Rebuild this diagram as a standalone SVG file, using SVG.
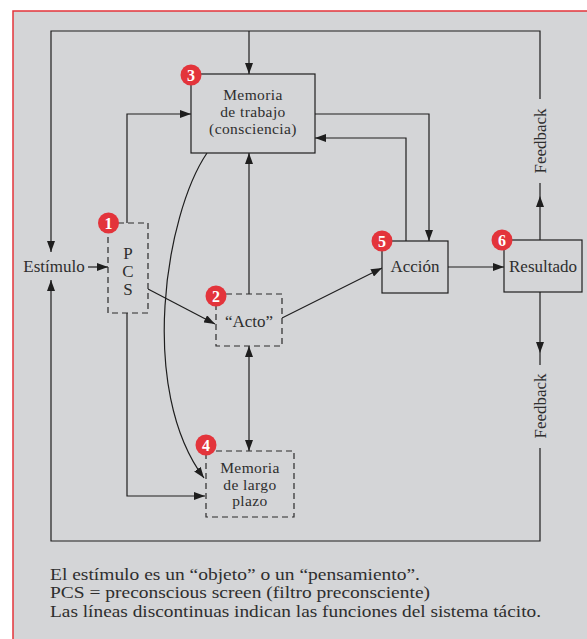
<svg xmlns="http://www.w3.org/2000/svg" width="587" height="639" viewBox="0 0 587 639">
<defs>
<marker id="ah" markerUnits="userSpaceOnUse" markerWidth="11" markerHeight="8" refX="11" refY="4" orient="auto">
<path d="M0,0 L11,4 L0,8 z" fill="#1e1e1e"/>
</marker>
<marker id="ahs" markerUnits="userSpaceOnUse" markerWidth="11" markerHeight="8" refX="0" refY="4" orient="auto">
<path d="M11,0 L0,4 L11,8 z" fill="#1e1e1e"/>
</marker>
<style>
.t{font-family:"Liberation Serif","Times New Roman",serif;font-size:17px;fill:#2e2e2e;text-anchor:middle}
.ml{font-family:"Liberation Serif","Times New Roman",serif;font-size:15.5px;letter-spacing:0.4px;fill:#2e2e2e;text-anchor:middle}
.n{font-family:"Liberation Serif","Times New Roman",serif;font-size:16px;font-weight:bold;fill:#fff;text-anchor:middle}
.box{fill:#d4d5d7;stroke:#1e1e1e;stroke-width:1.2}
.dbox{fill:#d4d5d7;stroke:#2a2a2a;stroke-width:1.2;stroke-dasharray:6,4}
.c{fill:none;stroke:#1e1e1e;stroke-width:1.2}
.m{fill:#e3343b}
.note{font-family:"Liberation Serif","Times New Roman",serif;font-size:17px;fill:#2e2e2e}
</style>
</defs>
<rect x="0" y="0" width="587" height="639" fill="#fff"/>
<rect x="13" y="11" width="574" height="628" fill="#d4d5d7"/>
<path d="M13,639 V11 H587" fill="none" stroke="#e3343b" stroke-width="1.5"/>

<g id="connectors">
<path class="c" d="M540,99 V31 H51 V252" marker-end="url(#ah)"/>
<path class="c" d="M249,31 V74" marker-end="url(#ah)"/>
<path class="c" d="M540,240 V196" marker-end="url(#ah)"/>
<path class="c" d="M540,196 V183"/>
<path class="c" d="M540,292 V353" marker-end="url(#ah)"/>
<path class="c" d="M540,353 V365"/>
<path class="c" d="M540,448 V541 H51 V280" marker-end="url(#ah)"/>
<path class="c" d="M88,267 H108" marker-end="url(#ah)"/>
<path class="c" d="M127,223 V114 H191" marker-end="url(#ah)"/>
<path class="c" d="M127,313 V496 H205" marker-end="url(#ah)"/>
<path class="c" d="M148,289 L215,324" marker-end="url(#ah)"/>
<path class="c" d="M249,294 V153" marker-end="url(#ah)"/>
<path class="c" d="M249,346 V451" marker-start="url(#ahs)" marker-end="url(#ah)"/>
<path class="c" d="M282,318 L382,268" marker-end="url(#ah)"/>
<path class="c" d="M315,114 H429 V241" marker-end="url(#ah)"/>
<path class="c" d="M406,241 V138 H315" marker-end="url(#ah)"/>
<path class="c" d="M448,267 H504" marker-end="url(#ah)"/>
<path class="c" d="M207,153 C165,215 138,390 204,478" marker-end="url(#ah)"/>
</g>

<g id="feedback-labels">
<text class="t" transform="translate(546,141) rotate(-90)">Feedback</text>
<text class="t" transform="translate(546,406) rotate(-90)">Feedback</text>
</g>

<g id="estimulo">
<text class="t" x="54" y="272">Estímulo</text>
</g>

<g id="memoria-trabajo">
<rect class="box" x="191" y="74" width="124" height="79"/>
<text class="ml" x="253" y="100">Memoria</text>
<text class="ml" x="253" y="117">de trabajo</text>
<text class="ml" x="253" y="134">(consciencia)</text>
<circle class="m" cx="191" cy="75" r="10.5"/>
<text class="n" x="191" y="80.5">3</text>
</g>

<g id="pcs">
<rect class="dbox" x="108" y="223" width="40" height="90"/>
<text class="t" x="128" y="259">P</text>
<text class="t" x="128" y="277">C</text>
<text class="t" x="128" y="295">S</text>
<circle class="m" cx="108.5" cy="223" r="10.5"/>
<text class="n" x="108.5" y="228.5">1</text>
</g>

<g id="acto">
<rect class="dbox" x="216" y="294" width="66" height="52"/>
<text class="t" x="249" y="327">“Acto”</text>
<circle class="m" cx="216" cy="296" r="10.5"/>
<text class="n" x="216" y="301.5">2</text>
</g>

<g id="memoria-largo-plazo">
<rect class="dbox" x="206" y="451" width="88" height="66"/>
<text class="ml" x="250" y="473">Memoria</text>
<text class="ml" x="250" y="490">de largo</text>
<text class="ml" x="250" y="506">plazo</text>
<circle class="m" cx="206" cy="445" r="10.5"/>
<text class="n" x="206" y="450.5">4</text>
</g>

<g id="accion">
<rect class="box" x="382" y="241" width="66" height="52"/>
<text class="t" x="415" y="272">Acción</text>
<circle class="m" cx="382" cy="241" r="10.5"/>
<text class="n" x="382" y="246.5">5</text>
</g>

<g id="resultado">
<rect class="box" x="504" y="240" width="78" height="52"/>
<text class="t" x="543" y="272">Resultado</text>
<circle class="m" cx="502" cy="240" r="10.5"/>
<text class="n" x="502" y="245.5">6</text>
</g>

<g id="notes">
<text class="note" x="50" y="580" textLength="370" lengthAdjust="spacingAndGlyphs">El estímulo es un “objeto” o un “pensamiento”.</text>
<text class="note" x="50" y="598" textLength="380" lengthAdjust="spacingAndGlyphs">PCS = preconscious screen (filtro preconsciente)</text>
<text class="note" x="50" y="617" textLength="491" lengthAdjust="spacingAndGlyphs">Las líneas discontinuas indican las funciones del sistema tácito.</text>
</g>
</svg>
